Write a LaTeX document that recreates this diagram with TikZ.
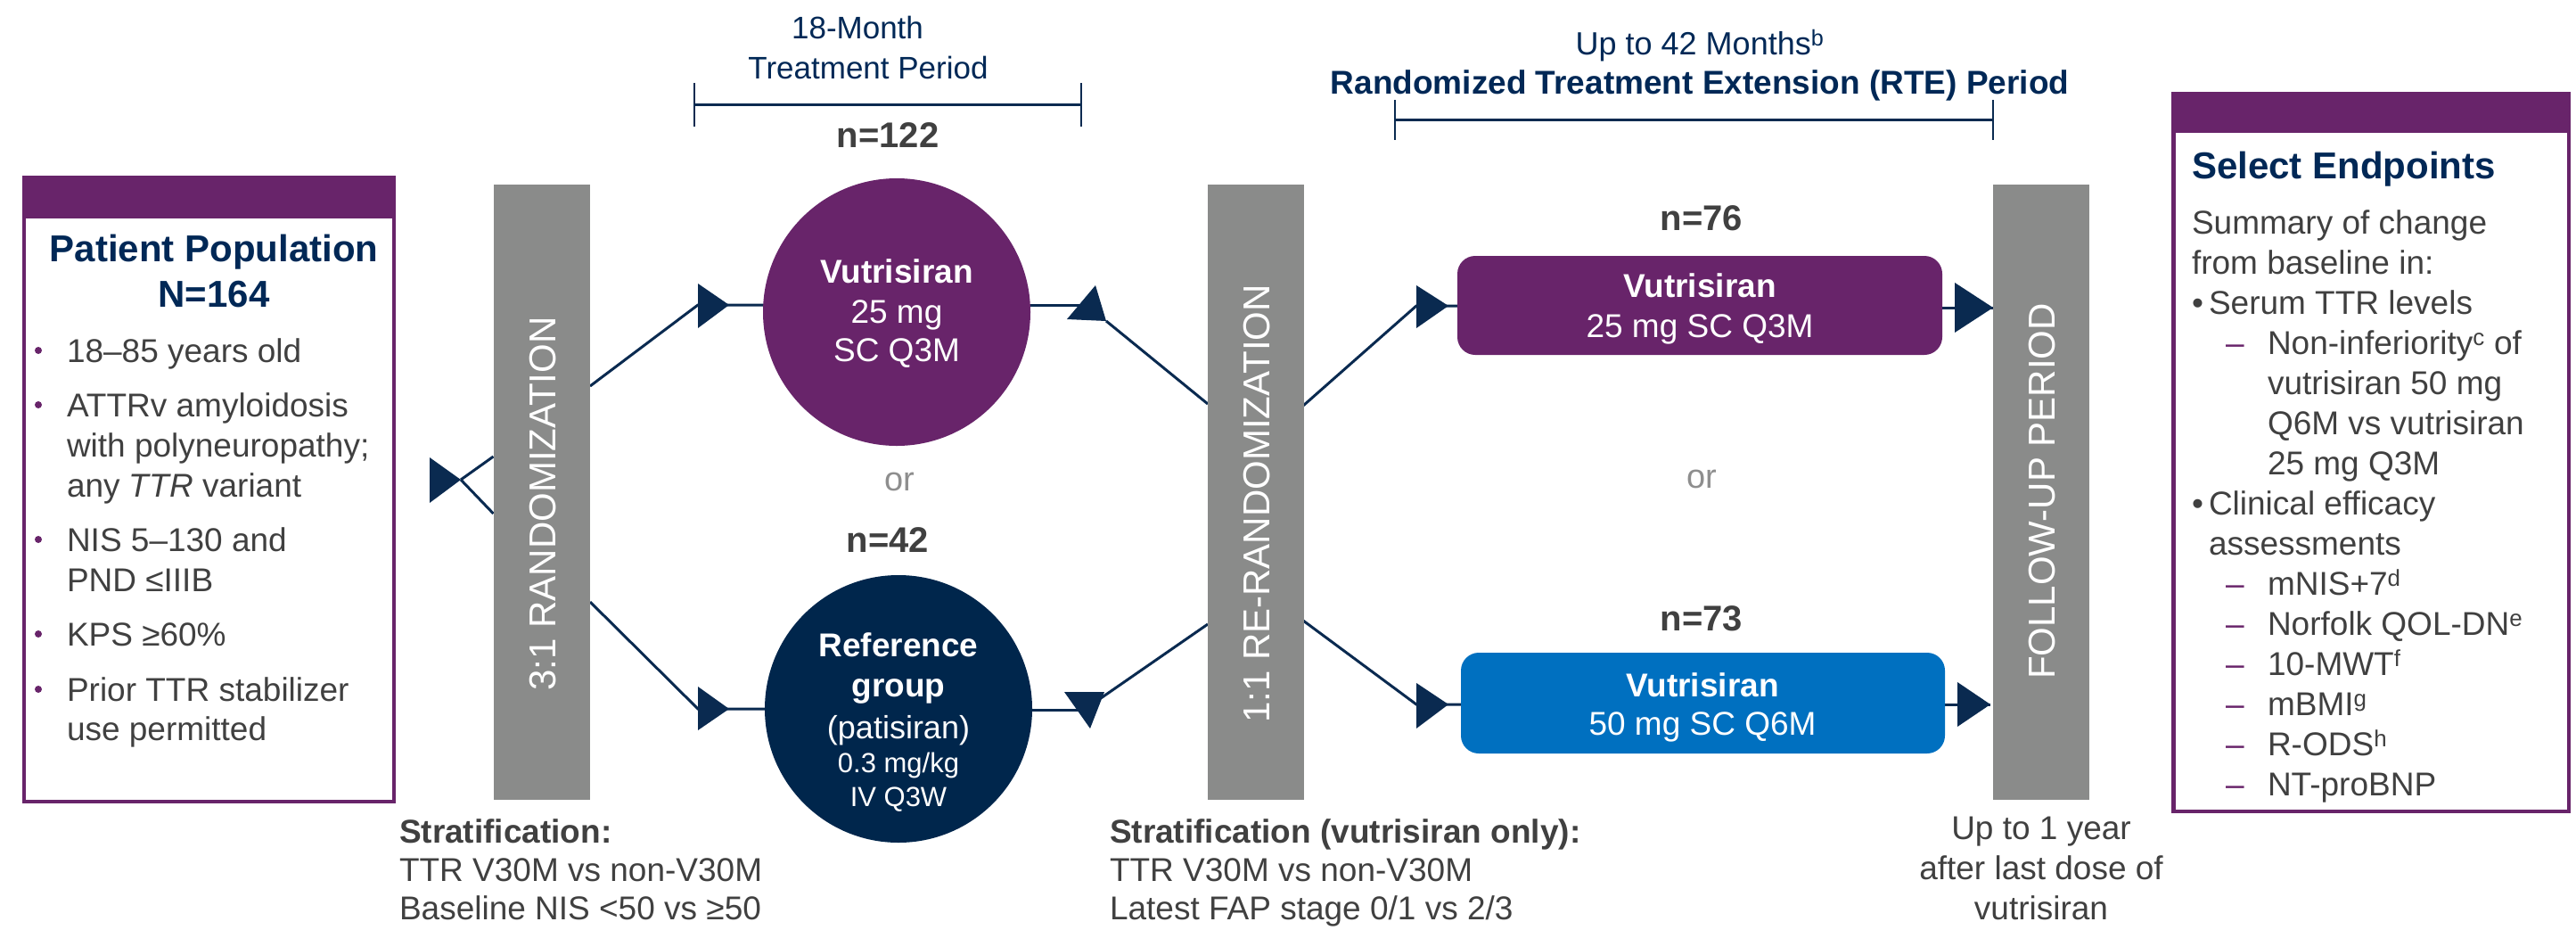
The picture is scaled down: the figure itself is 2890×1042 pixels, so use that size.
\documentclass[tikz,border=0pt]{standalone}
\usepackage{fontspec}
\setmainfont{Liberation Sans}
\definecolor{ppurple}{HTML}{68246A}
\definecolor{navy}{HTML}{0A2A50}
\definecolor{tnavy}{HTML}{002856}
\definecolor{dgray}{HTML}{404040}
\definecolor{bargray}{HTML}{8A8B8A}
\definecolor{orgray}{HTML}{8E8E8E}
\definecolor{bblue}{HTML}{0070C0}
\definecolor{refnavy}{HTML}{00264C}
\newcommand\fsz[1]{\fontsize{#1}{#1}\selectfont}
\pgfdeclarelayer{bg}
\pgfsetlayers{bg,main}
\tikzset{
 tbase/.style={inner sep=0pt, outer sep=0pt, anchor=base},
 tleft/.style={inner sep=0pt, outer sep=0pt, anchor=base west},
 conn/.style={draw=navy, line width=3pt},
 barbox/.style={fill=bargray, minimum width=108pt, minimum height=690pt, inner sep=0pt, outer sep=0pt},
 bartext/.style={rotate=90, text=white, font=\fsz{42}, inner sep=0pt},
 nlab/.style={tbase, text=dgray, font=\fsz{40}\bfseries},
 wb/.style={tbase, text=white, font=\fsz{37}\bfseries},
 wr/.style={tbase, text=white, font=\fsz{37}},
 wsm/.style={tbase, text=white, font=\fsz{31}},
 body/.style={tleft, text=dgray, font=\fsz{37}},
 bodyb/.style={tleft, text=dgray, font=\fsz{37}\bfseries},
 bodyc/.style={tbase, text=dgray, font=\fsz{37}},
 ortext/.style={tbase, text=orgray, font=\fsz{38}},
 navytxt/.style={tbase, text=tnavy, font=\fsz{36}},
 pdot/.style={circle, fill=ppurple, minimum size=8pt, inner sep=0pt},
 pdash/.style={tleft, text=ppurple, font=\fsz{37}},
 pframe/.style={draw=ppurple, line width=4.5pt, inner sep=0pt, outer sep=0pt},
 phead/.style={fill=ppurple, inner sep=0pt, outer sep=0pt, anchor=north west},
 ptitle/.style={tbase, text=tnavy, font=\fsz{42}\bfseries},
 tri/.style={fill=navy},
 brk/.style={draw=navy, line width=3pt},
 tick/.style={draw=navy, line width=2pt},
}
\begin{document}
\begin{tikzpicture}[x=1pt,y=-1pt]
\useasboundingbox (0,0) rectangle (2890,1042);

% ---------- Patient population box ----------
\node[pframe, minimum width=415pt, minimum height=700pt] (pp) at (234.25,548.75) {};
\node[phead, minimum width=419.5pt, minimum height=48.5pt] (pph) at (24.5,196.5) {};
\node[ptitle] (ppt1) at (240,293) {Patient Population};
\node[ptitle] (ppt2) at (240,344) {N=164};
\node[pdot] (d1) at (43,393) {};
\node[body] (p1) at (75,406) {18–85 years old};
\node[pdot] (d2) at (43,454) {};
\node[body] (p2a) at (75,467) {ATTRv amyloidosis};
\node[body] (p2b) at (75,512) {with polyneuropathy;};
\node[body] (p2c) at (75,557) {any \textit{TTR} variant};
\node[pdot] (d3) at (43,605) {};
\node[body] (p3a) at (75,618) {NIS 5–130 and};
\node[body] (p3b) at (75,663) {PND ≤IIIB};
\node[pdot] (d4) at (43,711) {};
\node[body] (p4) at (75,724) {KPS ≥60\%};
\node[pdot] (d5) at (43,773) {};
\node[body] (p5a) at (75,786) {Prior TTR stabilizer};
\node[body] (p5b) at (75,830) {use permitted};

% ---------- Bars ----------
\node[barbox] (b1) at (607.5,552) {};
\node[bartext] (b1t) at (609,565) {3:1 RANDOMIZATION};
\node[barbox] (b2) at (1408.5,552) {};
\node[bartext] (b2t) at (1410,565) {1:1 RE-RANDOMIZATION};
\node[barbox] (b3) at (2290,552) {};
\node[bartext] (b3t) at (2291,551) {FOLLOW-UP PERIOD};

% ---------- Treatment period header ----------
\node[navytxt, font=\fsz{35}] (tp1) at (962,43) {18-Month};
\node[navytxt, font=\fsz{35}] (tp2) at (974,88) {Treatment Period};
\coordinate (br1a) at (779,117);
\coordinate (br1b) at (1213,117);
\draw[brk] (br1a) -- (br1b);
\draw[tick] ([yshift=24pt]br1a) -- ([yshift=-25pt]br1a);
\draw[tick] ([yshift=24pt]br1b) -- ([yshift=-25pt]br1b);
\node[nlab] (n122) at (996,165) {n=122};

% ---------- Circles ----------
\node[circle, fill=ppurple, minimum size=300pt, inner sep=0pt] (c1) at (1006,350) {};
\node[wb] (c1a) at (1006,317) {Vutrisiran};
\node[wr] (c1b) at (1006,362) {25 mg};
\node[wr] (c1c) at (1006,405) {SC Q3M};
\node[ortext] (or1) at (1009,550) {or};
\node[nlab] (n42) at (996,619) {n=42};
\node[circle, fill=refnavy, minimum size=300pt, inner sep=0pt] (c2) at (1008,795) {};
\node[wb] (c2a) at (1008,736) {Reference};
\node[wb] (c2b) at (1008,781) {group};
\node[wr, font=\fsz{36}] (c2c) at (1008,828) {(patisiran)};
\node[wsm] (c2d) at (1008,866) {0.3 mg/kg};
\node[wsm] (c2e) at (1008,904) {IV Q3W};

% ---------- RTE header ----------
\node[navytxt] (rte1) at (1907,61) {Up to 42 Months\textsuperscript{b}};
\node[navytxt, font=\fsz{37}\bfseries] (rte2) at (1907,105) {Randomized Treatment Extension (RTE) Period};
\coordinate (br2a) at (1565,134);
\coordinate (br2b) at (2236,134);
\draw[brk] (br2a) -- (br2b);
\draw[tick] ([yshift=22pt]br2a) -- ([yshift=-23pt]br2a);
\draw[tick] ([yshift=22pt]br2b) -- ([yshift=-23pt]br2b);
\node[nlab] (n76) at (1909,258) {n=76};

% ---------- RTE boxes ----------
\node[rounded corners=20pt, fill=ppurple, minimum width=544pt, minimum height=111pt, inner sep=0pt] (v1) at (1907,342.5) {};
\node[wb] (v1a) at (1907,333) {Vutrisiran};
\node[wr] (v1b) at (1907,378) {25 mg SC Q3M};
\node[ortext] (or2) at (1909,547) {or};
\node[nlab] (n73) at (1909,707) {n=73};
\node[rounded corners=20pt, fill=bblue, minimum width=543pt, minimum height=113pt, inner sep=0pt] (v2) at (1910.5,788.5) {};
\node[wb] (v2a) at (1910,781) {Vutrisiran};
\node[wr] (v2b) at (1910,824) {50 mg SC Q6M};

% ---------- Stratification texts ----------
\node[bodyb] (s1a) at (448,945) {Stratification:};
\node[body] (s1b) at (448,988) {TTR V30M vs non-V30M};
\node[body] (s1c) at (448,1031) {Baseline NIS <50 vs ≥50};
\node[bodyb] (s2a) at (1245,945) {Stratification (vutrisiran only):};
\node[body] (s2b) at (1245,988) {TTR V30M vs non-V30M};
\node[body] (s2c) at (1245,1031) {Latest FAP stage 0/1 vs 2/3};
\node[bodyc] (f1) at (2290,941) {Up to 1 year};
\node[bodyc] (f2) at (2290,986) {after last dose of};
\node[bodyc] (f3) at (2290,1031) {vutrisiran};

% ---------- Select endpoints box ----------
\node[pframe, minimum width=443.5pt, minimum height=804.5pt] (se) at (2660,507.5) {};
\node[phead, minimum width=448pt, minimum height=46pt] (seh) at (2436,103) {};
\node[tleft, text=tnavy, font=\fsz{42}\bfseries] (set) at (2459,200) {Select Endpoints};
\node[body] (e1) at (2459,262) {Summary of change};
\node[body] (e2) at (2459,307) {from baseline in:};
\node[body] (e3b) at (2459,352) {•};
\node[body] (e3) at (2478,352) {Serum TTR levels};
\node[pdash] (e4d) at (2497,397) {–};
\node[body] (e4) at (2544,397) {Non-inferiority\textsuperscript{c} of};
\node[body] (e5) at (2544,442) {vutrisiran 50 mg};
\node[body] (e6) at (2544,487) {Q6M vs vutrisiran};
\node[body] (e7) at (2544,532) {25 mg Q3M};
\node[body] (e8b) at (2459,577) {•};
\node[body] (e8) at (2478,577) {Clinical efficacy};
\node[body] (e9) at (2478,622) {assessments};
\node[pdash] (e10d) at (2497,667) {–};
\node[body] (e10) at (2544,667) {mNIS+7\textsuperscript{d}};
\node[pdash] (e11d) at (2497,712) {–};
\node[body] (e11) at (2544,712) {Norfolk QOL-DN\textsuperscript{e}};
\node[pdash] (e12d) at (2497,757) {–};
\node[body] (e12) at (2544,757) {10-MWT\textsuperscript{f}};
\node[pdash] (e13d) at (2497,802) {–};
\node[body] (e13) at (2544,802) {mBMI\textsuperscript{g}};
\node[pdash] (e14d) at (2497,847) {–};
\node[body] (e14) at (2544,847) {R-ODS\textsuperscript{h}};
\node[pdash] (e15d) at (2497,892) {–};
\node[body] (e15) at (2544,892) {NT-proBNP};

% ---------- Connectors ----------
\coordinate (lt) at (517,538);
\coordinate (b1ua) at (662,433);
\coordinate (k1) at (783,342);
\coordinate (b1la) at (662,675);
\coordinate (k2) at (783,795);
\coordinate (h3) at (1215,342);
\coordinate (k3) at (1241,360);
\coordinate (b2ua) at (1355,453);
\coordinate (h4) at (1225,796);
\coordinate (k4) at (1235,783);
\coordinate (b2la) at (1355,700);
\coordinate (b2ub) at (1462,455);
\coordinate (k5) at (1589,343);
\coordinate (b2lb) at (1462,696);
\coordinate (k6) at (1589,790);
\coordinate (k7) at (2236,345);
\coordinate (k8) at (2233,790);

\begin{pgfonlayer}{bg}
\draw[conn] (lt) -- (b1.west |- 0,512);
\draw[conn] (lt) -- (b1.west |- 0,576);
\draw[conn] (b1ua) -- (k1) -- (k1 -| c1.center);
\draw[conn] (b1la) -- (k2) -- (k2 -| c2.center);
\draw[conn] (h3 -| c1.center) -- (h3);
\draw[conn] (k3) -- (b2ua);
\draw[conn] (h4 -| c2.center) -- (h4);
\draw[conn] (k4) -- (b2la);
\draw[conn] (b2ub) -- (k5) -- (k5 -| v1.center);
\draw[conn] (b2lb) -- (k6) -- (k6 -| v2.center);
\draw[conn] (k7 -| v1.center) -- (k7);
\draw[conn] (k8 -| v2.center) -- (k8);
\end{pgfonlayer}

% ---------- Arrowheads ----------
\fill[tri] (482,513) -- (lt) -- (482,564) -- cycle;
\fill[tri] (783,318) -- (818,342) -- (783,368) -- cycle;
\fill[tri] (783,770) -- (818,795) -- (783,819) -- cycle;
\fill[tri] (1229,320) -- (1197,358) -- (k3) -- cycle;
\fill[tri] (1194,776) -- (1239,776) -- (1223,817) -- cycle;
\fill[tri] (1589,320) -- (1625,343) -- (1589,368) -- cycle;
\fill[tri] (1589,766) -- (1625,790) -- (1589,817) -- cycle;
\fill[tri] (2193,317) -- (k7) -- (2193,373) -- cycle;
\fill[tri] (2196,765) -- (k8) -- (2196,815) -- cycle;
\end{tikzpicture}
\end{document}
